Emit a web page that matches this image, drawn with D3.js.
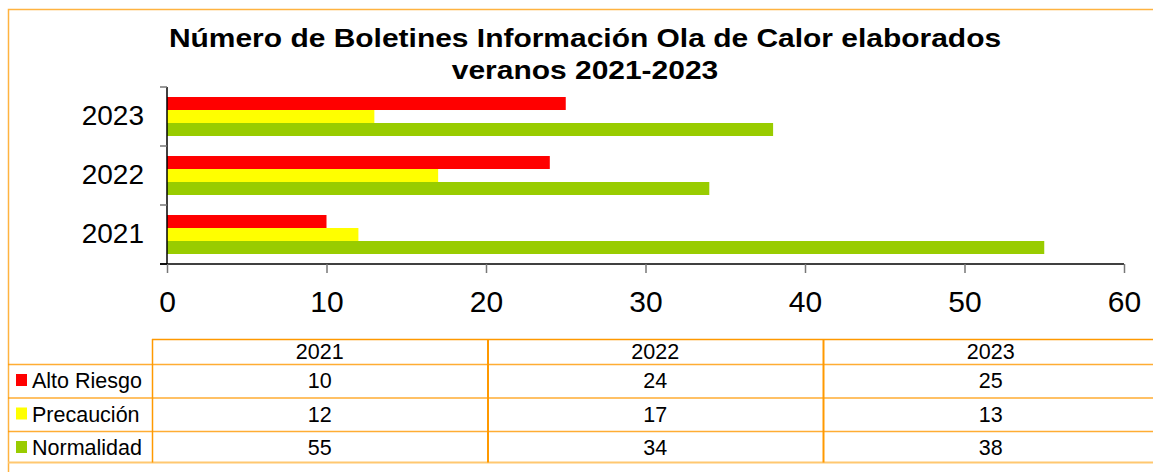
<!DOCTYPE html>
<html>
<head>
<meta charset="utf-8">
<script src="https://cdn.jsdelivr.net/npm/d3@7"></script>
<style>
  body { margin: 0; background: #fff; }
  svg { display: block; font-family: Arial, "Liberation Sans", sans-serif; }
</style>
</head>
<body>
<div id="chart"></div>
<script>
// data
const years = ["2021", "2022", "2023"];
const seriesNames = ["Alto Riesgo", "Precaución", "Normalidad"];
const seriesColors = ["#ff0000", "#ffff00", "#99cc00"];
const altoRiesgo = [10, 24, 25];
const precaucion = [12, 17, 13];
const normalidad = [55, 34, 38];
const xTicks = [0, 10, 20, 30, 40, 50, 60];
const titleLines = ["Número de Boletines Información Ola de Calor elaborados", "veranos 2021-2023"];

const seriesValues = [altoRiesgo, precaucion, normalidad];

const width = 1153, height = 472;
const orange = "#ff9900";

const svg = d3.select("#chart")
  .append("svg")
    .attr("width", width)
    .attr("height", height);

svg.append("rect").attr("width", width).attr("height", height).attr("fill", "#fff");

// outer frame
svg.append("path")
  .attr("d", `M8.5,${height} V9.5 H${width + 5}`)
  .attr("fill", "none")
  .attr("stroke", orange)
  .attr("stroke-opacity", 0.75)
  .attr("stroke-width", 1.5);

// title (the original font renders a bit wide)
svg.append("text")
  .attr("transform", "translate(585,0) scale(1.175,1)")
  .attr("text-anchor", "middle")
  .attr("font-weight", "bold")
  .attr("font-size", 25.5)
  .selectAll("tspan")
  .data(titleLines)
  .enter()
  .append("tspan")
    .attr("x", 0)
    .attr("y", (d, i) => 47 + i * 32)
    .text(d => d);

// plot area
const plot = { left: 167, right: 1124, top: 87, bottom: 264 };

const x = d3.scaleLinear()
  .domain([0, 60])
  .range([plot.left, plot.right]);

const y = d3.scaleBand()
  .domain(years.slice().reverse())
  .range([plot.top, plot.bottom])
  .padding(0);

const ySub = d3.scaleBand()
  .domain(seriesNames)
  .range([0, y.bandwidth()])
  .paddingInner(0)
  .paddingOuter(0.77);

// bars
years.forEach((yr, yi) => {
  svg.append("g")
    .selectAll("rect")
    .data(seriesNames)
    .enter()
    .append("rect")
      .attr("x", x(0))
      .attr("y", s => y(yr) + ySub(s))
      .attr("width", (s, si) => x(seriesValues[si][yi]) - x(0))
      .attr("height", ySub.bandwidth())
      .attr("fill", (s, si) => seriesColors[si]);
});

// x axis
const xAxis = d3.axisBottom(x)
  .tickValues(xTicks)
  .tickSize(9)
  .tickPadding(18)
  .tickSizeOuter(0);
const gx = svg.append("g")
  .attr("transform", `translate(0, ${plot.bottom})`)
  .call(xAxis);
gx.select(".domain").attr("stroke", "#000").attr("stroke-width", 1.5)
  .attr("d", `M${plot.left - 7},0H${plot.right}`);
gx.selectAll(".tick line").attr("stroke", "#777").attr("stroke-width", 1.5);
gx.selectAll(".tick text")
  .attr("font-size", 30)
  .attr("font-family", "Arial, 'Liberation Sans', sans-serif")
  .attr("fill", "#000");

// y axis
const yAxis = d3.axisLeft(y).tickSize(0).tickPadding(23);
const gy = svg.append("g")
  .attr("transform", `translate(${plot.left}, 0)`)
  .call(yAxis);
gy.select(".domain").attr("stroke", "#000").attr("stroke-width", 1.5)
  .attr("d", `M0,${plot.top}V${plot.bottom}`);
gy.selectAll(".tick text")
  .attr("font-size", 28)
  .attr("font-family", "Arial, 'Liberation Sans', sans-serif")
  .attr("fill", "#000");

// category boundary ticks
const boundaries = years.map(yr => y(yr)).concat([plot.bottom]);
svg.append("g")
  .selectAll("line")
  .data(boundaries)
  .enter()
  .append("line")
    .attr("x1", plot.left - 7)
    .attr("x2", plot.left)
    .attr("y1", d => d)
    .attr("y2", d => d)
    .attr("stroke", d => d === plot.bottom ? "#000" : "#777")
    .attr("stroke-width", 1.5);

// data table
const table = { left: 8, labelRight: 152, colWidth: 335.5, headTop: 339, headBottom: 364, rowH: 33.5 };
const colX = years.map((yr, i) => table.labelRight + i * table.colWidth);
const rowTop = seriesNames.map((s, i) => table.headBottom + i * table.rowH);
const tableBottom = table.headBottom + seriesNames.length * table.rowH - 2;

const tg = svg.append("g");

// horizontal lines
tg.append("line")
  .attr("x1", table.labelRight).attr("x2", width)
  .attr("y1", table.headTop + 0.5).attr("y2", table.headTop + 0.5)
  .attr("stroke", orange).attr("stroke-width", 1.5);
tg.selectAll(".hline")
  .data(rowTop)
  .enter()
  .append("line")
    .attr("x1", table.left).attr("x2", width)
    .attr("y1", d => d + 0.5).attr("y2", d => d + 0.5)
    .attr("stroke", orange).attr("stroke-opacity", 0.8).attr("stroke-width", 1.5);
tg.append("line")
  .attr("x1", table.left).attr("x2", width)
  .attr("y1", tableBottom).attr("y2", tableBottom)
  .attr("stroke", "#ffc870").attr("stroke-width", 2);

// vertical lines
tg.selectAll(".vline")
  .data(colX)
  .enter()
  .append("line")
    .attr("x1", d => d + 0.5).attr("x2", d => d + 0.5)
    .attr("y1", table.headTop).attr("y2", tableBottom)
    .attr("stroke", orange).attr("stroke-width", (d, i) => i === 0 ? 1.5 : 2);

// header
tg.selectAll(".head")
  .data(years)
  .enter()
  .append("text")
    .attr("x", (d, i) => colX[i] + table.colWidth / 2)
    .attr("y", table.headBottom - 5)
    .attr("text-anchor", "middle")
    .attr("font-size", 21.5)
    .text(d => d);

// rows
seriesNames.forEach((s, si) => {
  const ty = rowTop[si] + 24;
  tg.append("rect")
    .attr("x", 16).attr("y", rowTop[si] + 10)
    .attr("width", 11).attr("height", 12)
    .attr("fill", seriesColors[si]);
  tg.append("text")
    .attr("x", 32).attr("y", ty)
    .attr("font-size", 21.5)
    .text(s);
  tg.selectAll(".val" + si)
    .data(seriesValues[si])
    .enter()
    .append("text")
      .attr("x", (d, i) => colX[i] + table.colWidth / 2)
      .attr("y", ty)
      .attr("text-anchor", "middle")
      .attr("font-size", 21.5)
      .text(d => d);
});
</script>
</body>
</html>
